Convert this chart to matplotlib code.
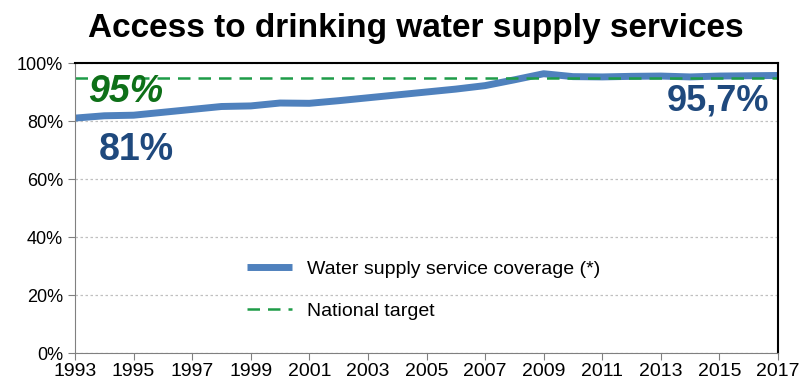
import numpy as np
import matplotlib.pyplot as plt
from matplotlib.ticker import PercentFormatter

plt.rcParams['font.family'] = ['Liberation Sans', 'DejaVu Sans']

years = np.arange(1993, 2018)
coverage = [81, 81.8, 82, 83, 84, 85, 85.2, 86.2, 86.1, 87, 88, 89, 90, 91, 92.2, 94.2,
            96.3, 95.3, 95.2, 95.4, 95.5, 95.2, 95.5, 95.6, 95.7]
target = 95
x_ticks = np.arange(1993, 2018, 2)
y_ticks = [0, 20, 40, 60, 80, 100]

fig = plt.figure(figsize=(7.99, 3.84), dpi=100)
ax = fig.add_axes([75 / 799, 31 / 384, 703 / 799, 290 / 384])

ax.plot(years, coverage, color='#4f81bd', lw=5, solid_capstyle='butt',
        label='Water supply service coverage (*)')
ax.axhline(target, color='#1e9c48', lw=1.8, ls=(0, (5, 3.2)), label='National target')

ax.set_xlim(1993, 2017)
ax.set_ylim(0, 100)
ax.set_xticks(x_ticks)
ax.set_yticks(y_ticks)
ax.yaxis.set_major_formatter(PercentFormatter(decimals=0))
ax.tick_params(labelsize=13, color='#808080', length=5)
ax.tick_params(axis='x', labelsize=14, pad=2)
ax.grid(axis='y', color='#c0c0c0', ls=(0, (2, 2)), lw=0.9)
for s in ['left', 'bottom']:
    ax.spines[s].set_color('#808080')
for s in ['top', 'right']:
    ax.spines[s].set_color('black')
    ax.spines[s].set_linewidth(1.5)

ax.text(1993.45, 86.5, '95%', color='#0e7018', fontsize=27, fontweight='bold',
        fontstyle='italic')
ax.text(1993.8, 66.5, '81%', color='#1f497d', fontsize=27, fontweight='bold')
ax.text(2016.7, 83.5, '95,7%', color='#1f497d', fontsize=26, fontweight='bold', ha='right')

ax.legend(loc='lower left', bbox_to_anchor=(0.22, 0.055), frameon=False, fontsize=14,
          handlelength=2.3, labelspacing=1.25)

fig.suptitle('Access to drinking water supply services', fontsize=24, fontweight='bold',
             x=0.52, y=0.965)

fig.savefig('out.png', dpi=100)
